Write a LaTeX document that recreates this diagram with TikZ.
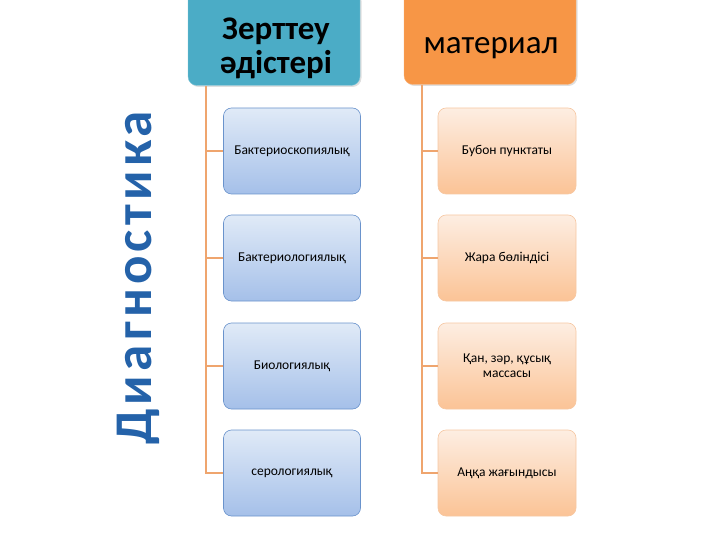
\documentclass[tikz,border=0pt]{standalone}
\usepackage{fontspec}
\setmainfont{Carlito}
\newfontfamily\vfont[LetterSpace=8]{Carlito}
\usetikzlibrary{shadows}
\definecolor{teal1}{HTML}{4BACC6}
\definecolor{orng1}{HTML}{F79646}
\definecolor{conn}{HTML}{EFA56E}
\definecolor{bluetop}{HTML}{E0EAF7}
\definecolor{bluebot}{HTML}{A5C0E9}
\definecolor{blueedge}{HTML}{6A93CC}
\definecolor{ortop}{HTML}{FDEEE2}
\definecolor{orbot}{HTML}{FBC396}
\definecolor{oredge}{HTML}{F6C7A2}
\definecolor{vblue}{HTML}{2462A9}
\tikzset{
  hdr/.style={rounded corners=9pt, minimum width=172pt, minimum height=95pt, inner sep=0pt, align=center,
    drop shadow={opacity=0.25, shadow xshift=1.5pt, shadow yshift=-1.5pt}},
  bluebox/.style={rounded corners=8pt, draw=blueedge, line width=0.6pt, top color=bluetop, bottom color=bluebot,
    minimum width=137pt, minimum height=86pt, inner sep=0pt, align=center, font=\fontsize{13.5}{15}\selectfont},
  orbox/.style={rounded corners=8pt, draw=oredge, line width=0.6pt, top color=ortop, bottom color=orbot,
    minimum width=138pt, minimum height=86pt, inner sep=0pt, align=center, font=\fontsize{13.5}{15}\selectfont},
  cline/.style={draw=conn, line width=1.6pt},
  htext/.style={inner sep=0pt, align=center}
}
\begin{document}
\begin{tikzpicture}[x=1pt,y=-1pt]
\useasboundingbox (0,0) rectangle (720,540);
% vertical title
\node[rotate=90, text=vblue, inner sep=0pt, font=\vfont\bfseries\fontsize{53}{53}\selectfont] (title) at (138,278) {Диагностика};
% headers
\node[hdr, fill=teal1, draw=teal1!70!white] (h1) at (274,38) {};
\node[htext, font=\bfseries\fontsize{33}{34}\selectfont] (h1t) at (276,48) {Зерттеу\\әдістері};
\node[hdr, fill=orng1, draw=orng1!75!white] (h2) at (490,37) {};
\node[htext, font=\fontsize{33}{36}\selectfont] (h2t) at (491,48) {материал};
% left boxes
\node[bluebox] (l1) at (292,151) {Бактериоскопиялық};
\node[bluebox] (l2) at (292,258) {Бактериологиялық};
\node[bluebox] (l3) at (292,366) {Биологиялық};
\node[bluebox] (l4) at (292,473) {серологиялық};
% right boxes
\node[orbox] (r1) at (507,151) {Бубон пунктаты};
\node[orbox] (r2) at (507,258) {Жара бөліндісі};
\node[orbox] (r3) at (507,366) {Қан, зәр, құсық\\массасы};
\node[orbox] (r4) at (507,473) {Аңқа жағындысы};
% connectors
\coordinate (lt) at (206,86);
\coordinate (lb) at (206,474);
\coordinate (rt) at (422,84);
\coordinate (rb) at (422,474);
\draw[cline] (h1.south -| lt) -- (l4.west -| lb) -- (l4.west);
\foreach \n in {l1,l2,l3} \draw[cline] (\n.west -| lt) -- (\n.west);
\draw[cline] (h2.south -| rt) -- (r4.west -| rb) -- (r4.west);
\foreach \n in {r1,r2,r3} \draw[cline] (\n.west -| rt) -- (\n.west);
\end{tikzpicture}
\end{document}
